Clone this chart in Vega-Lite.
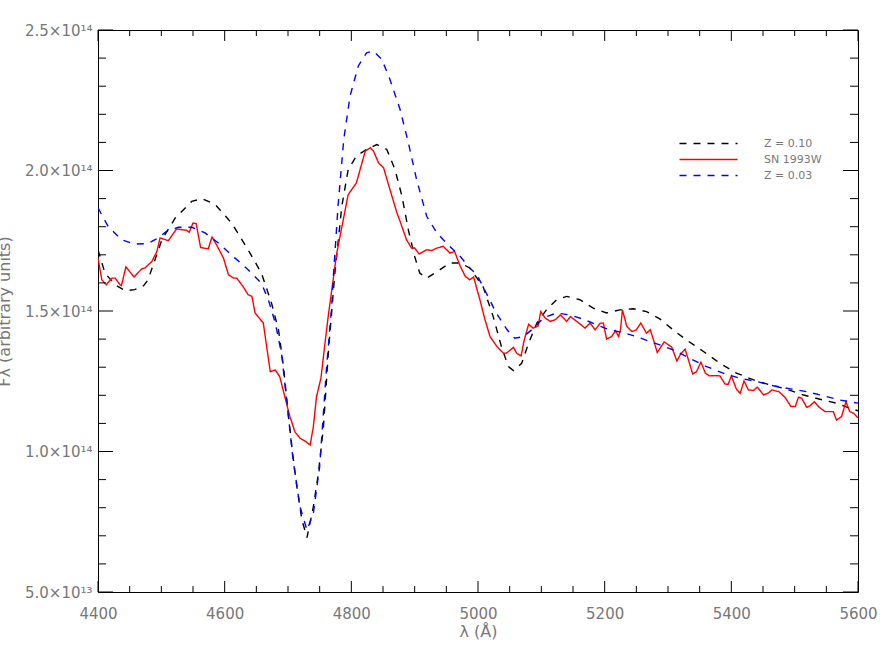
{
  "$schema": "https://vega.github.io/schema/vega-lite/v6.json",
  "autosize": {"type": "none"},
  "padding": {"left": 98, "top": 30, "right": 29, "bottom": 62},
  "width": 760,
  "height": 562,
  "background": "white",
  "config": {
    "view": {"stroke": null},
    "axis": {"grid": false, "tickColor": "#000", "tickWidth": 1, "domainColor": "#000", "domainWidth": 1}
  },
  "datasets": {
    "xmajor": [{"v": 4400}, {"v": 4600}, {"v": 4800}, {"v": 5000}, {"v": 5200}, {"v": 5400}, {"v": 5600}],
    "xminor": [{"v": 4450}, {"v": 4500}, {"v": 4550}, {"v": 4650}, {"v": 4700}, {"v": 4750}, {"v": 4850}, {"v": 4900}, {"v": 4950}, {"v": 5050}, {"v": 5100}, {"v": 5150}, {"v": 5250}, {"v": 5300}, {"v": 5350}, {"v": 5450}, {"v": 5500}, {"v": 5550}],
    "ymajor": [{"v": 5e13}, {"v": 1e14}, {"v": 1.5e14}, {"v": 2e14}, {"v": 2.5e14}],
    "yminor": [{"v": 6e13}, {"v": 7e13}, {"v": 8e13}, {"v": 9e13}, {"v": 1.1e14}, {"v": 1.2e14}, {"v": 1.3e14}, {"v": 1.4e14}, {"v": 1.6e14}, {"v": 1.7e14}, {"v": 1.8e14}, {"v": 1.9e14}, {"v": 2.1e14}, {"v": 2.2e14}, {"v": 2.3e14}, {"v": 2.4e14}],
    "spectra": [
    {"series": "Z = 0.10", "wavelength": 4400, "flux": 1.718e14},
    {"series": "Z = 0.10", "wavelength": 4411, "flux": 1.635e14},
    {"series": "Z = 0.10", "wavelength": 4427, "flux": 1.593e14},
    {"series": "Z = 0.10", "wavelength": 4443, "flux": 1.572e14},
    {"series": "Z = 0.10", "wavelength": 4458, "flux": 1.576e14},
    {"series": "Z = 0.10", "wavelength": 4472, "flux": 1.590e14},
    {"series": "Z = 0.10", "wavelength": 4479, "flux": 1.611e14},
    {"series": "Z = 0.10", "wavelength": 4501, "flux": 1.754e14},
    {"series": "Z = 0.10", "wavelength": 4522, "flux": 1.831e14},
    {"series": "Z = 0.10", "wavelength": 4548, "flux": 1.890e14},
    {"series": "Z = 0.10", "wavelength": 4564, "flux": 1.900e14},
    {"series": "Z = 0.10", "wavelength": 4585, "flux": 1.879e14},
    {"series": "Z = 0.10", "wavelength": 4611, "flux": 1.813e14},
    {"series": "Z = 0.10", "wavelength": 4637, "flux": 1.718e14},
    {"series": "Z = 0.10", "wavelength": 4658, "flux": 1.635e14},
    {"series": "Z = 0.10", "wavelength": 4674, "flux": 1.528e14},
    {"series": "Z = 0.10", "wavelength": 4685, "flux": 1.433e14},
    {"series": "Z = 0.10", "wavelength": 4693, "flux": 1.300e14},
    {"series": "Z = 0.10", "wavelength": 4700, "flux": 1.140e14},
    {"series": "Z = 0.10", "wavelength": 4708, "flux": 0.980e14},
    {"series": "Z = 0.10", "wavelength": 4714, "flux": 0.874e14},
    {"series": "Z = 0.10", "wavelength": 4722, "flux": 0.756e14},
    {"series": "Z = 0.10", "wavelength": 4730, "flux": 0.694e14},
    {"series": "Z = 0.10", "wavelength": 4740, "flux": 0.803e14},
    {"series": "Z = 0.10", "wavelength": 4748, "flux": 0.922e14},
    {"series": "Z = 0.10", "wavelength": 4756, "flux": 1.088e14},
    {"series": "Z = 0.10", "wavelength": 4764, "flux": 1.362e14},
    {"series": "Z = 0.10", "wavelength": 4774, "flux": 1.635e14},
    {"series": "Z = 0.10", "wavelength": 4785, "flux": 1.873e14},
    {"series": "Z = 0.10", "wavelength": 4795, "flux": 2.003e14},
    {"series": "Z = 0.10", "wavelength": 4808, "flux": 2.051e14},
    {"series": "Z = 0.10", "wavelength": 4824, "flux": 2.075e14},
    {"series": "Z = 0.10", "wavelength": 4840, "flux": 2.092e14},
    {"series": "Z = 0.10", "wavelength": 4856, "flux": 2.075e14},
    {"series": "Z = 0.10", "wavelength": 4869, "flux": 2.003e14},
    {"series": "Z = 0.10", "wavelength": 4880, "flux": 1.908e14},
    {"series": "Z = 0.10", "wavelength": 4890, "flux": 1.789e14},
    {"series": "Z = 0.10", "wavelength": 4900, "flux": 1.694e14},
    {"series": "Z = 0.10", "wavelength": 4908, "flux": 1.635e14},
    {"series": "Z = 0.10", "wavelength": 4919, "flux": 1.617e14},
    {"series": "Z = 0.10", "wavelength": 4940, "flux": 1.647e14},
    {"series": "Z = 0.10", "wavelength": 4956, "flux": 1.671e14},
    {"series": "Z = 0.10", "wavelength": 4972, "flux": 1.671e14},
    {"series": "Z = 0.10", "wavelength": 4987, "flux": 1.653e14},
    {"series": "Z = 0.10", "wavelength": 5008, "flux": 1.587e14},
    {"series": "Z = 0.10", "wavelength": 5024, "flux": 1.480e14},
    {"series": "Z = 0.10", "wavelength": 5037, "flux": 1.373e14},
    {"series": "Z = 0.10", "wavelength": 5048, "flux": 1.302e14},
    {"series": "Z = 0.10", "wavelength": 5056, "flux": 1.288e14},
    {"series": "Z = 0.10", "wavelength": 5069, "flux": 1.314e14},
    {"series": "Z = 0.10", "wavelength": 5080, "flux": 1.386e14},
    {"series": "Z = 0.10", "wavelength": 5093, "flux": 1.457e14},
    {"series": "Z = 0.10", "wavelength": 5108, "flux": 1.504e14},
    {"series": "Z = 0.10", "wavelength": 5124, "flux": 1.540e14},
    {"series": "Z = 0.10", "wavelength": 5140, "flux": 1.552e14},
    {"series": "Z = 0.10", "wavelength": 5161, "flux": 1.540e14},
    {"series": "Z = 0.10", "wavelength": 5182, "flux": 1.510e14},
    {"series": "Z = 0.10", "wavelength": 5203, "flux": 1.493e14},
    {"series": "Z = 0.10", "wavelength": 5224, "flux": 1.504e14},
    {"series": "Z = 0.10", "wavelength": 5245, "flux": 1.508e14},
    {"series": "Z = 0.10", "wavelength": 5266, "flux": 1.498e14},
    {"series": "Z = 0.10", "wavelength": 5287, "flux": 1.472e14},
    {"series": "Z = 0.10", "wavelength": 5308, "flux": 1.433e14},
    {"series": "Z = 0.10", "wavelength": 5329, "flux": 1.397e14},
    {"series": "Z = 0.10", "wavelength": 5356, "flux": 1.356e14},
    {"series": "Z = 0.10", "wavelength": 5382, "flux": 1.314e14},
    {"series": "Z = 0.10", "wavelength": 5408, "flux": 1.279e14},
    {"series": "Z = 0.10", "wavelength": 5435, "flux": 1.255e14},
    {"series": "Z = 0.10", "wavelength": 5461, "flux": 1.237e14},
    {"series": "Z = 0.10", "wavelength": 5487, "flux": 1.222e14},
    {"series": "Z = 0.10", "wavelength": 5514, "flux": 1.201e14},
    {"series": "Z = 0.10", "wavelength": 5540, "flux": 1.186e14},
    {"series": "Z = 0.10", "wavelength": 5566, "flux": 1.172e14},
    {"series": "Z = 0.10", "wavelength": 5587, "flux": 1.154e14},
    {"series": "Z = 0.10", "wavelength": 5600, "flux": 1.145e14},

    {"series": "SN 1993W", "wavelength": 4400, "flux": 1.689e14},
    {"series": "SN 1993W", "wavelength": 4406, "flux": 1.611e14},
    {"series": "SN 1993W", "wavelength": 4413, "flux": 1.593e14},
    {"series": "SN 1993W", "wavelength": 4422, "flux": 1.617e14},
    {"series": "SN 1993W", "wavelength": 4427, "flux": 1.617e14},
    {"series": "SN 1993W", "wavelength": 4435, "flux": 1.593e14},
    {"series": "SN 1993W", "wavelength": 4437, "flux": 1.590e14},
    {"series": "SN 1993W", "wavelength": 4444, "flux": 1.657e14},
    {"series": "SN 1993W", "wavelength": 4457, "flux": 1.621e14},
    {"series": "SN 1993W", "wavelength": 4469, "flux": 1.650e14},
    {"series": "SN 1993W", "wavelength": 4474, "flux": 1.653e14},
    {"series": "SN 1993W", "wavelength": 4485, "flux": 1.676e14},
    {"series": "SN 1993W", "wavelength": 4493, "flux": 1.712e14},
    {"series": "SN 1993W", "wavelength": 4498, "flux": 1.760e14},
    {"series": "SN 1993W", "wavelength": 4506, "flux": 1.754e14},
    {"series": "SN 1993W", "wavelength": 4511, "flux": 1.750e14},
    {"series": "SN 1993W", "wavelength": 4524, "flux": 1.792e14},
    {"series": "SN 1993W", "wavelength": 4540, "flux": 1.787e14},
    {"series": "SN 1993W", "wavelength": 4544, "flux": 1.780e14},
    {"series": "SN 1993W", "wavelength": 4550, "flux": 1.813e14},
    {"series": "SN 1993W", "wavelength": 4555, "flux": 1.811e14},
    {"series": "SN 1993W", "wavelength": 4562, "flux": 1.726e14},
    {"series": "SN 1993W", "wavelength": 4574, "flux": 1.721e14},
    {"series": "SN 1993W", "wavelength": 4580, "flux": 1.763e14},
    {"series": "SN 1993W", "wavelength": 4587, "flux": 1.736e14},
    {"series": "SN 1993W", "wavelength": 4598, "flux": 1.689e14},
    {"series": "SN 1993W", "wavelength": 4606, "flux": 1.629e14},
    {"series": "SN 1993W", "wavelength": 4614, "flux": 1.617e14},
    {"series": "SN 1993W", "wavelength": 4619, "flux": 1.617e14},
    {"series": "SN 1993W", "wavelength": 4629, "flux": 1.587e14},
    {"series": "SN 1993W", "wavelength": 4637, "flux": 1.558e14},
    {"series": "SN 1993W", "wavelength": 4643, "flux": 1.552e14},
    {"series": "SN 1993W", "wavelength": 4648, "flux": 1.493e14},
    {"series": "SN 1993W", "wavelength": 4661, "flux": 1.457e14},
    {"series": "SN 1993W", "wavelength": 4672, "flux": 1.284e14},
    {"series": "SN 1993W", "wavelength": 4680, "flux": 1.290e14},
    {"series": "SN 1993W", "wavelength": 4687, "flux": 1.266e14},
    {"series": "SN 1993W", "wavelength": 4695, "flux": 1.195e14},
    {"series": "SN 1993W", "wavelength": 4703, "flux": 1.124e14},
    {"series": "SN 1993W", "wavelength": 4711, "flux": 1.070e14},
    {"series": "SN 1993W", "wavelength": 4719, "flux": 1.047e14},
    {"series": "SN 1993W", "wavelength": 4727, "flux": 1.037e14},
    {"series": "SN 1993W", "wavelength": 4735, "flux": 1.023e14},
    {"series": "SN 1993W", "wavelength": 4740, "flux": 1.088e14},
    {"series": "SN 1993W", "wavelength": 4745, "flux": 1.195e14},
    {"series": "SN 1993W", "wavelength": 4752, "flux": 1.261e14},
    {"series": "SN 1993W", "wavelength": 4759, "flux": 1.397e14},
    {"series": "SN 1993W", "wavelength": 4764, "flux": 1.490e14},
    {"series": "SN 1993W", "wavelength": 4777, "flux": 1.706e14},
    {"series": "SN 1993W", "wavelength": 4795, "flux": 1.914e14},
    {"series": "SN 1993W", "wavelength": 4808, "flux": 1.956e14},
    {"series": "SN 1993W", "wavelength": 4822, "flux": 2.069e14},
    {"series": "SN 1993W", "wavelength": 4830, "flux": 2.081e14},
    {"series": "SN 1993W", "wavelength": 4835, "flux": 2.069e14},
    {"series": "SN 1993W", "wavelength": 4843, "flux": 2.027e14},
    {"series": "SN 1993W", "wavelength": 4851, "flux": 2.009e14},
    {"series": "SN 1993W", "wavelength": 4861, "flux": 1.932e14},
    {"series": "SN 1993W", "wavelength": 4872, "flux": 1.849e14},
    {"series": "SN 1993W", "wavelength": 4877, "flux": 1.819e14},
    {"series": "SN 1993W", "wavelength": 4887, "flux": 1.754e14},
    {"series": "SN 1993W", "wavelength": 4895, "flux": 1.724e14},
    {"series": "SN 1993W", "wavelength": 4900, "flux": 1.724e14},
    {"series": "SN 1993W", "wavelength": 4907, "flux": 1.703e14},
    {"series": "SN 1993W", "wavelength": 4919, "flux": 1.718e14},
    {"series": "SN 1993W", "wavelength": 4927, "flux": 1.715e14},
    {"series": "SN 1993W", "wavelength": 4935, "flux": 1.724e14},
    {"series": "SN 1993W", "wavelength": 4945, "flux": 1.730e14},
    {"series": "SN 1993W", "wavelength": 4956, "flux": 1.706e14},
    {"series": "SN 1993W", "wavelength": 4963, "flux": 1.712e14},
    {"series": "SN 1993W", "wavelength": 4972, "flux": 1.659e14},
    {"series": "SN 1993W", "wavelength": 4980, "flux": 1.623e14},
    {"series": "SN 1993W", "wavelength": 4987, "flux": 1.611e14},
    {"series": "SN 1993W", "wavelength": 4993, "flux": 1.621e14},
    {"series": "SN 1993W", "wavelength": 5003, "flux": 1.540e14},
    {"series": "SN 1993W", "wavelength": 5011, "flux": 1.469e14},
    {"series": "SN 1993W", "wavelength": 5019, "flux": 1.409e14},
    {"series": "SN 1993W", "wavelength": 5030, "flux": 1.373e14},
    {"series": "SN 1993W", "wavelength": 5040, "flux": 1.350e14},
    {"series": "SN 1993W", "wavelength": 5045, "flux": 1.350e14},
    {"series": "SN 1993W", "wavelength": 5056, "flux": 1.371e14},
    {"series": "SN 1993W", "wavelength": 5061, "flux": 1.350e14},
    {"series": "SN 1993W", "wavelength": 5068, "flux": 1.340e14},
    {"series": "SN 1993W", "wavelength": 5073, "flux": 1.397e14},
    {"series": "SN 1993W", "wavelength": 5080, "flux": 1.453e14},
    {"series": "SN 1993W", "wavelength": 5087, "flux": 1.439e14},
    {"series": "SN 1993W", "wavelength": 5095, "flux": 1.447e14},
    {"series": "SN 1993W", "wavelength": 5099, "flux": 1.498e14},
    {"series": "SN 1993W", "wavelength": 5106, "flux": 1.475e14},
    {"series": "SN 1993W", "wavelength": 5114, "flux": 1.463e14},
    {"series": "SN 1993W", "wavelength": 5122, "flux": 1.469e14},
    {"series": "SN 1993W", "wavelength": 5130, "flux": 1.486e14},
    {"series": "SN 1993W", "wavelength": 5140, "flux": 1.463e14},
    {"series": "SN 1993W", "wavelength": 5146, "flux": 1.480e14},
    {"series": "SN 1993W", "wavelength": 5154, "flux": 1.466e14},
    {"series": "SN 1993W", "wavelength": 5161, "flux": 1.454e14},
    {"series": "SN 1993W", "wavelength": 5169, "flux": 1.439e14},
    {"series": "SN 1993W", "wavelength": 5177, "flux": 1.457e14},
    {"series": "SN 1993W", "wavelength": 5185, "flux": 1.433e14},
    {"series": "SN 1993W", "wavelength": 5193, "flux": 1.457e14},
    {"series": "SN 1993W", "wavelength": 5198, "flux": 1.457e14},
    {"series": "SN 1993W", "wavelength": 5203, "flux": 1.400e14},
    {"series": "SN 1993W", "wavelength": 5211, "flux": 1.409e14},
    {"series": "SN 1993W", "wavelength": 5217, "flux": 1.430e14},
    {"series": "SN 1993W", "wavelength": 5222, "flux": 1.409e14},
    {"series": "SN 1993W", "wavelength": 5225, "flux": 1.433e14},
    {"series": "SN 1993W", "wavelength": 5228, "flux": 1.504e14},
    {"series": "SN 1993W", "wavelength": 5235, "flux": 1.445e14},
    {"series": "SN 1993W", "wavelength": 5243, "flux": 1.427e14},
    {"series": "SN 1993W", "wavelength": 5250, "flux": 1.433e14},
    {"series": "SN 1993W", "wavelength": 5257, "flux": 1.457e14},
    {"series": "SN 1993W", "wavelength": 5266, "flux": 1.421e14},
    {"series": "SN 1993W", "wavelength": 5272, "flux": 1.433e14},
    {"series": "SN 1993W", "wavelength": 5278, "flux": 1.391e14},
    {"series": "SN 1993W", "wavelength": 5283, "flux": 1.352e14},
    {"series": "SN 1993W", "wavelength": 5294, "flux": 1.390e14},
    {"series": "SN 1993W", "wavelength": 5306, "flux": 1.371e14},
    {"series": "SN 1993W", "wavelength": 5314, "flux": 1.322e14},
    {"series": "SN 1993W", "wavelength": 5320, "flux": 1.347e14},
    {"series": "SN 1993W", "wavelength": 5327, "flux": 1.364e14},
    {"series": "SN 1993W", "wavelength": 5332, "flux": 1.328e14},
    {"series": "SN 1993W", "wavelength": 5339, "flux": 1.276e14},
    {"series": "SN 1993W", "wavelength": 5345, "flux": 1.284e14},
    {"series": "SN 1993W", "wavelength": 5352, "flux": 1.318e14},
    {"series": "SN 1993W", "wavelength": 5359, "flux": 1.279e14},
    {"series": "SN 1993W", "wavelength": 5365, "flux": 1.269e14},
    {"series": "SN 1993W", "wavelength": 5374, "flux": 1.270e14},
    {"series": "SN 1993W", "wavelength": 5382, "flux": 1.269e14},
    {"series": "SN 1993W", "wavelength": 5390, "flux": 1.240e14},
    {"series": "SN 1993W", "wavelength": 5395, "flux": 1.239e14},
    {"series": "SN 1993W", "wavelength": 5400, "flux": 1.269e14},
    {"series": "SN 1993W", "wavelength": 5408, "flux": 1.222e14},
    {"series": "SN 1993W", "wavelength": 5414, "flux": 1.207e14},
    {"series": "SN 1993W", "wavelength": 5420, "flux": 1.251e14},
    {"series": "SN 1993W", "wavelength": 5427, "flux": 1.219e14},
    {"series": "SN 1993W", "wavelength": 5435, "flux": 1.217e14},
    {"series": "SN 1993W", "wavelength": 5441, "flux": 1.229e14},
    {"series": "SN 1993W", "wavelength": 5451, "flux": 1.201e14},
    {"series": "SN 1993W", "wavelength": 5459, "flux": 1.209e14},
    {"series": "SN 1993W", "wavelength": 5464, "flux": 1.219e14},
    {"series": "SN 1993W", "wavelength": 5475, "flux": 1.213e14},
    {"series": "SN 1993W", "wavelength": 5485, "flux": 1.192e14},
    {"series": "SN 1993W", "wavelength": 5494, "flux": 1.160e14},
    {"series": "SN 1993W", "wavelength": 5501, "flux": 1.160e14},
    {"series": "SN 1993W", "wavelength": 5506, "flux": 1.193e14},
    {"series": "SN 1993W", "wavelength": 5511, "flux": 1.190e14},
    {"series": "SN 1993W", "wavelength": 5519, "flux": 1.157e14},
    {"series": "SN 1993W", "wavelength": 5524, "flux": 1.162e14},
    {"series": "SN 1993W", "wavelength": 5531, "flux": 1.177e14},
    {"series": "SN 1993W", "wavelength": 5539, "flux": 1.157e14},
    {"series": "SN 1993W", "wavelength": 5548, "flux": 1.142e14},
    {"series": "SN 1993W", "wavelength": 5561, "flux": 1.142e14},
    {"series": "SN 1993W", "wavelength": 5566, "flux": 1.112e14},
    {"series": "SN 1993W", "wavelength": 5574, "flux": 1.124e14},
    {"series": "SN 1993W", "wavelength": 5581, "flux": 1.177e14},
    {"series": "SN 1993W", "wavelength": 5587, "flux": 1.142e14},
    {"series": "SN 1993W", "wavelength": 5593, "flux": 1.136e14},
    {"series": "SN 1993W", "wavelength": 5600, "flux": 1.120e14},

    {"series": "Z = 0.03", "wavelength": 4400, "flux": 1.867e14},
    {"series": "Z = 0.03", "wavelength": 4416, "flux": 1.801e14},
    {"series": "Z = 0.03", "wavelength": 4437, "flux": 1.754e14},
    {"series": "Z = 0.03", "wavelength": 4458, "flux": 1.738e14},
    {"series": "Z = 0.03", "wavelength": 4479, "flux": 1.740e14},
    {"series": "Z = 0.03", "wavelength": 4495, "flux": 1.760e14},
    {"series": "Z = 0.03", "wavelength": 4508, "flux": 1.783e14},
    {"series": "Z = 0.03", "wavelength": 4527, "flux": 1.798e14},
    {"series": "Z = 0.03", "wavelength": 4548, "flux": 1.798e14},
    {"series": "Z = 0.03", "wavelength": 4569, "flux": 1.778e14},
    {"series": "Z = 0.03", "wavelength": 4590, "flux": 1.742e14},
    {"series": "Z = 0.03", "wavelength": 4616, "flux": 1.689e14},
    {"series": "Z = 0.03", "wavelength": 4637, "flux": 1.647e14},
    {"series": "Z = 0.03", "wavelength": 4658, "flux": 1.599e14},
    {"series": "Z = 0.03", "wavelength": 4669, "flux": 1.540e14},
    {"series": "Z = 0.03", "wavelength": 4680, "flux": 1.457e14},
    {"series": "Z = 0.03", "wavelength": 4690, "flux": 1.345e14},
    {"series": "Z = 0.03", "wavelength": 4700, "flux": 1.140e14},
    {"series": "Z = 0.03", "wavelength": 4708, "flux": 0.970e14},
    {"series": "Z = 0.03", "wavelength": 4719, "flux": 0.803e14},
    {"series": "Z = 0.03", "wavelength": 4730, "flux": 0.720e14},
    {"series": "Z = 0.03", "wavelength": 4740, "flux": 0.780e14},
    {"series": "Z = 0.03", "wavelength": 4750, "flux": 0.946e14},
    {"series": "Z = 0.03", "wavelength": 4761, "flux": 1.302e14},
    {"series": "Z = 0.03", "wavelength": 4769, "flux": 1.516e14},
    {"series": "Z = 0.03", "wavelength": 4772, "flux": 1.635e14},
    {"series": "Z = 0.03", "wavelength": 4779, "flux": 1.873e14},
    {"series": "Z = 0.03", "wavelength": 4788, "flux": 2.110e14},
    {"series": "Z = 0.03", "wavelength": 4798, "flux": 2.265e14},
    {"series": "Z = 0.03", "wavelength": 4811, "flux": 2.372e14},
    {"series": "Z = 0.03", "wavelength": 4824, "flux": 2.419e14},
    {"series": "Z = 0.03", "wavelength": 4835, "flux": 2.425e14},
    {"series": "Z = 0.03", "wavelength": 4848, "flux": 2.396e14},
    {"series": "Z = 0.03", "wavelength": 4861, "flux": 2.324e14},
    {"series": "Z = 0.03", "wavelength": 4877, "flux": 2.217e14},
    {"series": "Z = 0.03", "wavelength": 4890, "flux": 2.099e14},
    {"series": "Z = 0.03", "wavelength": 4903, "flux": 1.968e14},
    {"series": "Z = 0.03", "wavelength": 4919, "flux": 1.837e14},
    {"series": "Z = 0.03", "wavelength": 4935, "flux": 1.778e14},
    {"series": "Z = 0.03", "wavelength": 4950, "flux": 1.742e14},
    {"series": "Z = 0.03", "wavelength": 4972, "flux": 1.694e14},
    {"series": "Z = 0.03", "wavelength": 4987, "flux": 1.653e14},
    {"series": "Z = 0.03", "wavelength": 4998, "flux": 1.630e14},
    {"series": "Z = 0.03", "wavelength": 5013, "flux": 1.564e14},
    {"series": "Z = 0.03", "wavelength": 5029, "flux": 1.492e14},
    {"series": "Z = 0.03", "wavelength": 5046, "flux": 1.433e14},
    {"series": "Z = 0.03", "wavelength": 5058, "flux": 1.403e14},
    {"series": "Z = 0.03", "wavelength": 5072, "flux": 1.409e14},
    {"series": "Z = 0.03", "wavelength": 5088, "flux": 1.439e14},
    {"series": "Z = 0.03", "wavelength": 5103, "flux": 1.475e14},
    {"series": "Z = 0.03", "wavelength": 5124, "flux": 1.493e14},
    {"series": "Z = 0.03", "wavelength": 5145, "flux": 1.486e14},
    {"series": "Z = 0.03", "wavelength": 5166, "flux": 1.471e14},
    {"series": "Z = 0.03", "wavelength": 5187, "flux": 1.451e14},
    {"series": "Z = 0.03", "wavelength": 5208, "flux": 1.433e14},
    {"series": "Z = 0.03", "wavelength": 5229, "flux": 1.423e14},
    {"series": "Z = 0.03", "wavelength": 5250, "flux": 1.409e14},
    {"series": "Z = 0.03", "wavelength": 5272, "flux": 1.391e14},
    {"series": "Z = 0.03", "wavelength": 5290, "flux": 1.377e14},
    {"series": "Z = 0.03", "wavelength": 5308, "flux": 1.362e14},
    {"series": "Z = 0.03", "wavelength": 5334, "flux": 1.332e14},
    {"series": "Z = 0.03", "wavelength": 5361, "flux": 1.302e14},
    {"series": "Z = 0.03", "wavelength": 5387, "flux": 1.279e14},
    {"series": "Z = 0.03", "wavelength": 5413, "flux": 1.261e14},
    {"series": "Z = 0.03", "wavelength": 5440, "flux": 1.249e14},
    {"series": "Z = 0.03", "wavelength": 5466, "flux": 1.234e14},
    {"series": "Z = 0.03", "wavelength": 5493, "flux": 1.223e14},
    {"series": "Z = 0.03", "wavelength": 5519, "flux": 1.213e14},
    {"series": "Z = 0.03", "wavelength": 5546, "flux": 1.198e14},
    {"series": "Z = 0.03", "wavelength": 5572, "flux": 1.183e14},
    {"series": "Z = 0.03", "wavelength": 5600, "flux": 1.172e14}
  ]},
  "resolve": {"axis": {"x": "independent", "y": "independent"}},
  "layer": [
    {
      "data": {"name": "spectra"},
      "mark": {"type": "line", "strokeWidth": 1.4, "clip": true},
      "encoding": {
        "x": {"field": "wavelength", "type": "quantitative",
          "scale": {"domain": [4400, 5600], "nice": false, "zero": false},
          "axis": {"orient": "bottom", "title": "λ (Å)", "values": [4400, 4600, 4800, 5000, 5200, 5400, 5600], "format": "d",
            "ticks": false, "domain": true, "labelFont": "DejaVu Sans", "labelFontSize": 15, "labelColor": "#777",
            "labelPadding": 14, "labelFlush": false, "labelOverlap": false,
            "titleFont": "DejaVu Sans", "titleFontSize": 16, "titleFontWeight": "normal", "titleColor": "#777", "titlePadding": 2}},
        "y": {"field": "flux", "type": "quantitative",
          "scale": {"domain": [5e13, 2.5e14], "nice": false, "zero": false},
          "axis": {"orient": "left", "title": "Fλ (arbitrary units)", "values": [5e13, 1e14, 1.5e14, 2e14, 2.5e14],
            "labelExpr": "datum.value < 0.99e14 ? format(datum.value / 1e13, '.1f') + '×10¹³' : format(datum.value / 1e14, '.1f') + '×10¹⁴'",
            "ticks": false, "domain": true, "labelFont": "DejaVu Sans", "labelFontSize": 15, "labelColor": "#777",
            "labelPadding": 6, "labelFlush": false, "labelOverlap": false,
            "titleFont": "DejaVu Sans", "titleFontSize": 16, "titleFontWeight": "normal", "titleColor": "#777", "titlePadding": 12}},
        "color": {"field": "series", "type": "nominal",
          "scale": {"domain": ["Z = 0.10", "SN 1993W", "Z = 0.03"], "range": ["#000000", "#ff0000", "#0000ff"]},
          "legend": {"orient": "none", "legendX": 605, "legendY": 108, "title": null, "symbolType": "M-9.667,0H9.667",
            "symbolSize": 36, "symbolStrokeWidth": 1.4, "labelOffset": 50, "labelFont": "DejaVu Sans",
            "labelFontSize": 11, "labelColor": "#777", "rowPadding": 4, "padding": 0}},
        "strokeDash": {"field": "series", "type": "nominal",
          "scale": {"domain": ["Z = 0.10", "SN 1993W", "Z = 0.03"], "range": [[7, 7], [1, 0], [7, 7]]},
          "legend": {"orient": "none", "legendX": 605, "legendY": 108, "title": null, "symbolType": "M-9.667,0H9.667",
            "symbolSize": 36, "symbolStrokeWidth": 1.4, "labelOffset": 50, "labelFont": "DejaVu Sans",
            "labelFontSize": 11, "labelColor": "#777", "rowPadding": 4, "padding": 0}}
      }
    },
    {
      "data": {"name": "xmajor"},
      "mark": {"type": "point", "opacity": 0},
      "encoding": {
        "x": {"field": "v", "type": "quantitative",
          "scale": {"domain": [4400, 5600], "nice": false, "zero": false},
          "axis": {"orient": "top", "title": null, "labels": false, "domain": true, "ticks": false}},
        "y": {"datum": 2.5e14, "type": "quantitative",
          "scale": {"domain": [5e13, 2.5e14], "nice": false, "zero": false},
          "axis": {"orient": "right", "title": null, "labels": false, "domain": true, "ticks": false}}
      }
    },
    {
      "data": {"name": "xmajor"},
      "mark": {"type": "tick", "orient": "vertical", "size": 11, "thickness": 1, "color": "#000", "opacity": 1, "yOffset": -5.5},
      "encoding": {
        "x": {"field": "v", "type": "quantitative", "axis": null},
        "y": {"datum": 5e13, "type": "quantitative", "axis": null}
      }
    },
    {
      "data": {"name": "xmajor"},
      "mark": {"type": "tick", "orient": "vertical", "size": 11, "thickness": 1, "color": "#000", "opacity": 1, "yOffset": 5.5},
      "encoding": {
        "x": {"field": "v", "type": "quantitative", "axis": null},
        "y": {"datum": 2.5e14, "type": "quantitative", "axis": null}
      }
    },
    {
      "data": {"name": "xminor"},
      "mark": {"type": "tick", "orient": "vertical", "size": 6, "thickness": 1, "color": "#000", "opacity": 1, "yOffset": -3},
      "encoding": {
        "x": {"field": "v", "type": "quantitative", "axis": null},
        "y": {"datum": 5e13, "type": "quantitative", "axis": null}
      }
    },
    {
      "data": {"name": "xminor"},
      "mark": {"type": "tick", "orient": "vertical", "size": 6, "thickness": 1, "color": "#000", "opacity": 1, "yOffset": 3},
      "encoding": {
        "x": {"field": "v", "type": "quantitative", "axis": null},
        "y": {"datum": 2.5e14, "type": "quantitative", "axis": null}
      }
    },
    {
      "data": {"name": "ymajor"},
      "mark": {"type": "tick", "orient": "horizontal", "size": 15, "thickness": 1, "color": "#000", "opacity": 1, "xOffset": 7.5},
      "encoding": {
        "y": {"field": "v", "type": "quantitative", "axis": null},
        "x": {"datum": 4400, "type": "quantitative", "axis": null}
      }
    },
    {
      "data": {"name": "ymajor"},
      "mark": {"type": "tick", "orient": "horizontal", "size": 15, "thickness": 1, "color": "#000", "opacity": 1, "xOffset": -7.5},
      "encoding": {
        "y": {"field": "v", "type": "quantitative", "axis": null},
        "x": {"datum": 5600, "type": "quantitative", "axis": null}
      }
    },
    {
      "data": {"name": "yminor"},
      "mark": {"type": "tick", "orient": "horizontal", "size": 8, "thickness": 1, "color": "#000", "opacity": 1, "xOffset": 4},
      "encoding": {
        "y": {"field": "v", "type": "quantitative", "axis": null},
        "x": {"datum": 4400, "type": "quantitative", "axis": null}
      }
    },
    {
      "data": {"name": "yminor"},
      "mark": {"type": "tick", "orient": "horizontal", "size": 8, "thickness": 1, "color": "#000", "opacity": 1, "xOffset": -4},
      "encoding": {
        "y": {"field": "v", "type": "quantitative", "axis": null},
        "x": {"datum": 5600, "type": "quantitative", "axis": null}
      }
    }
  ]
}
